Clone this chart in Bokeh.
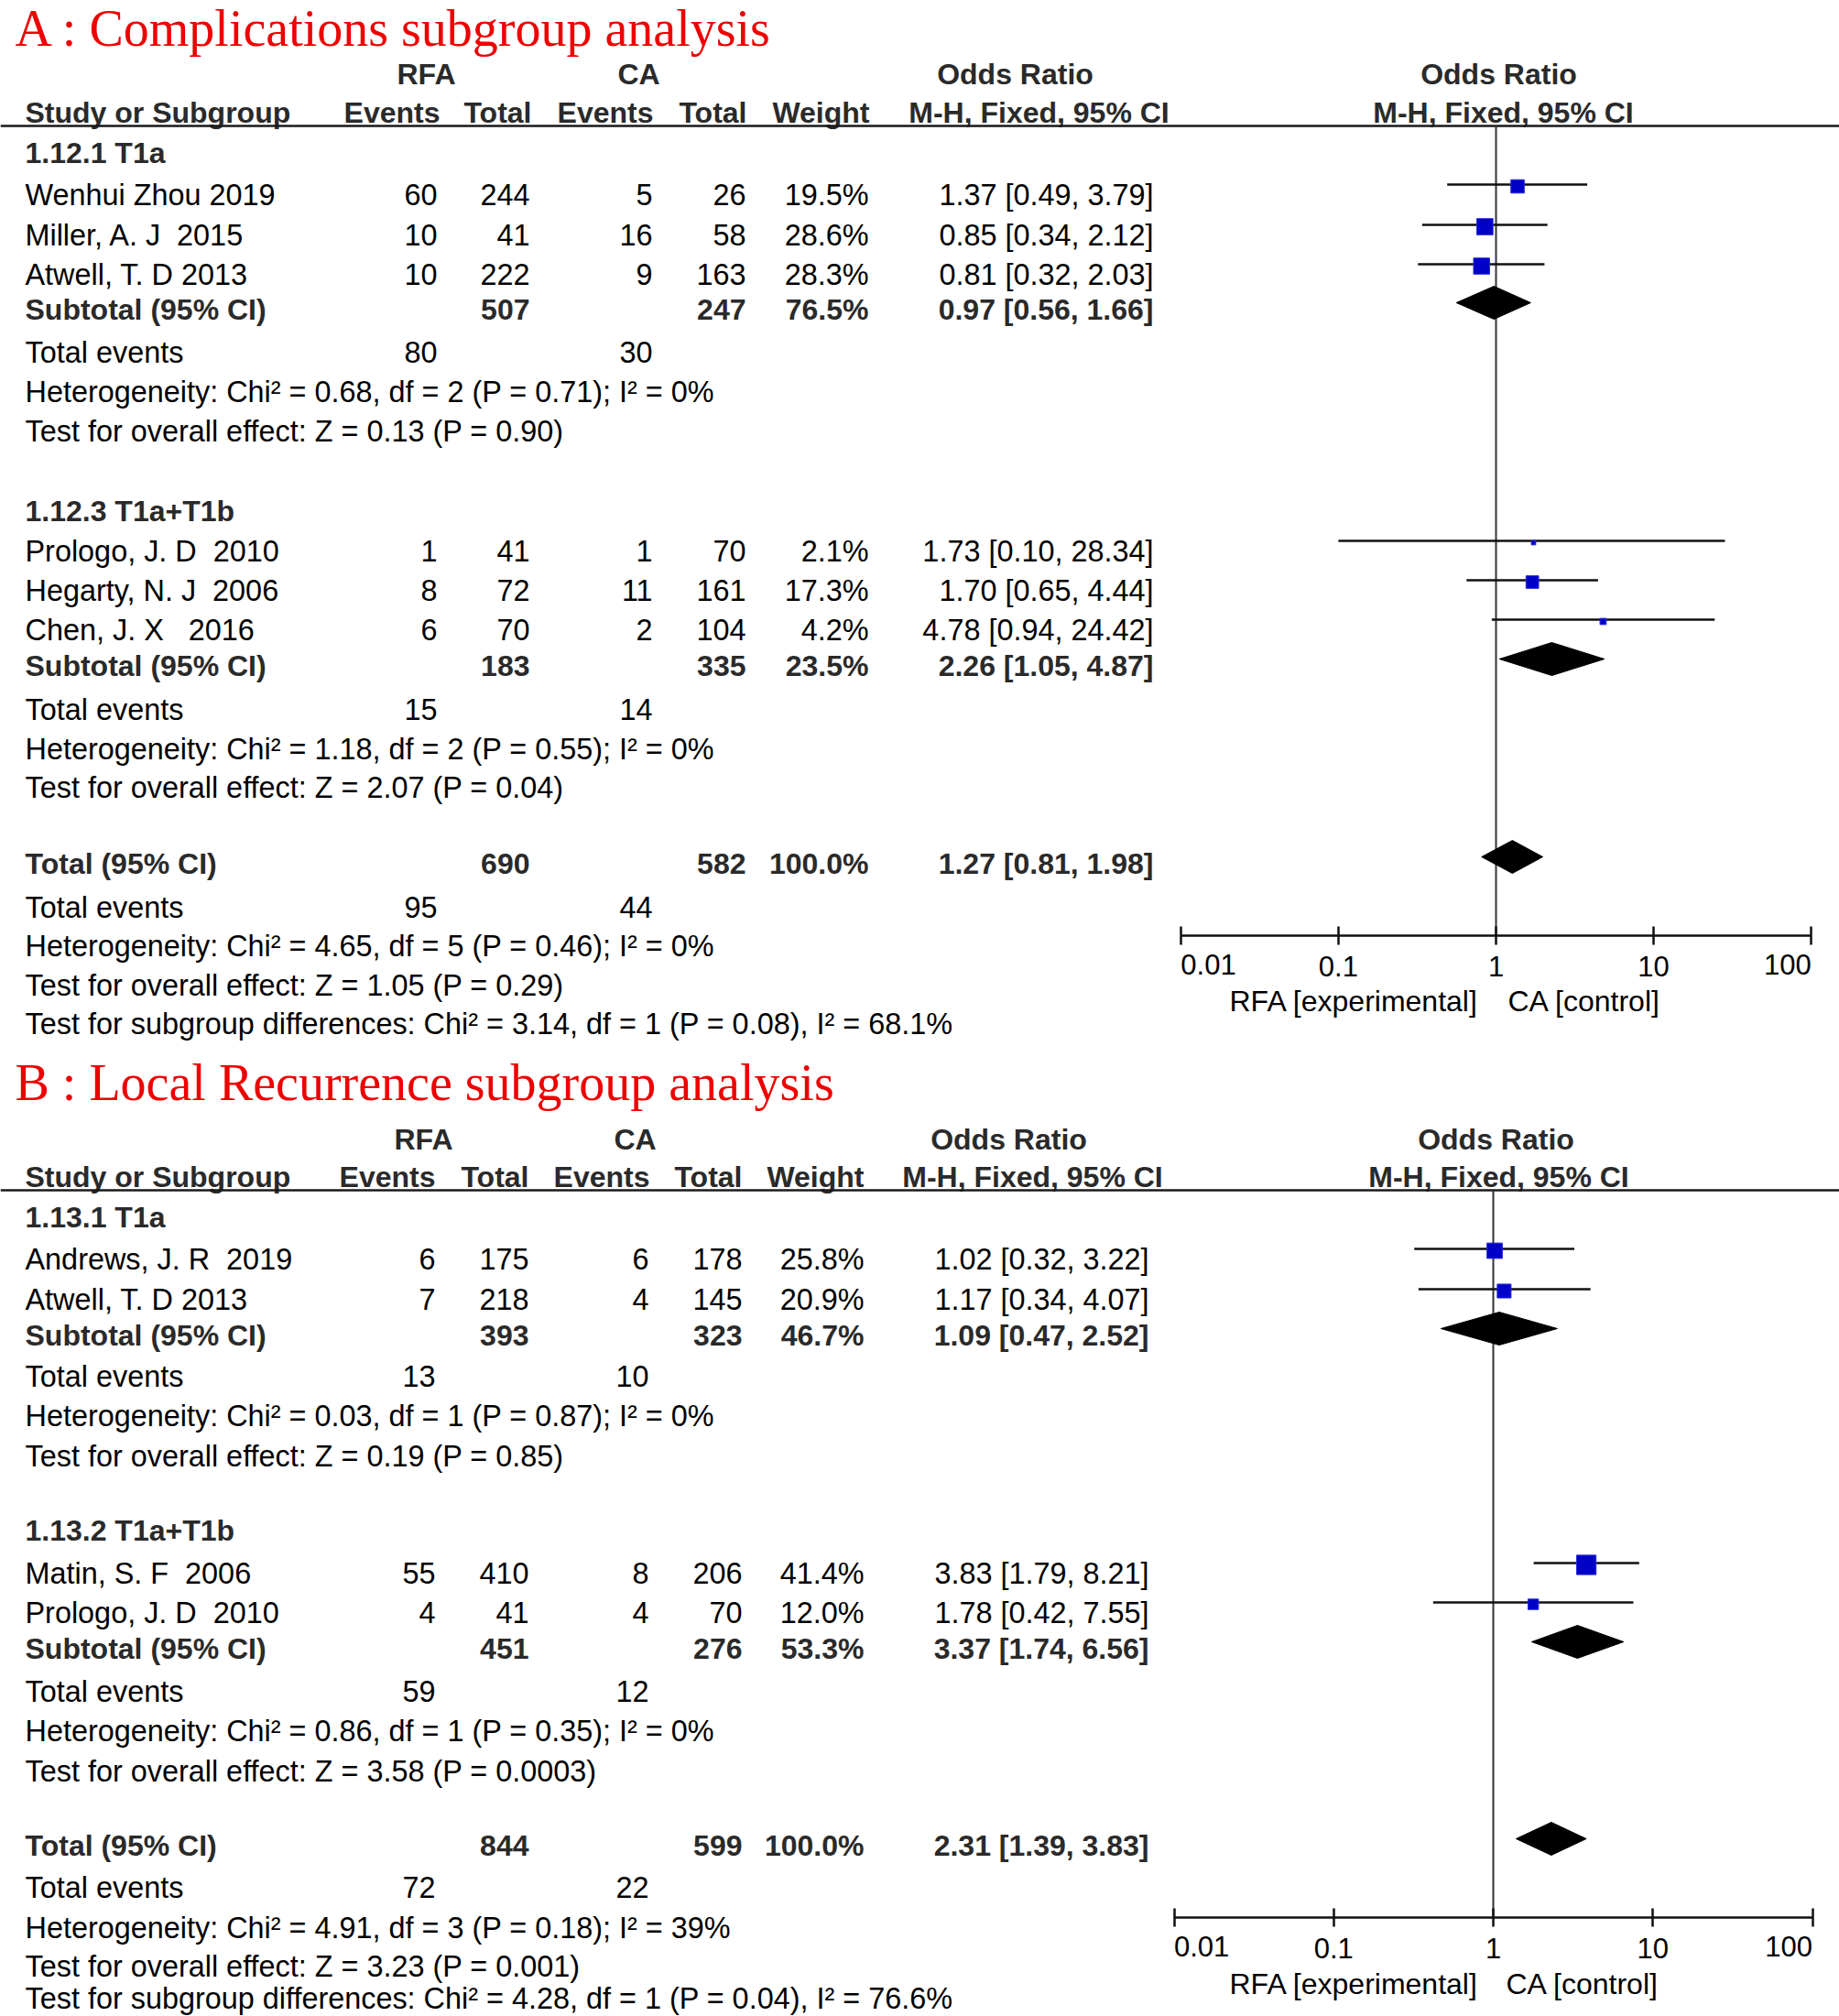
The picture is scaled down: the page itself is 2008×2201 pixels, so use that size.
from bokeh.plotting import figure
from bokeh.layouts import column
from bokeh.models import Range1d, LogScale, LinearAxis, FixedTicker, CustomJSTickFormatter, ColumnDataSource
from bokeh.core.properties import value
from bokeh.embed import file_html
from bokeh.resources import INLINE

NB = "\u00a0"

# ---------------- data: panel A (complications) ----------------
A_title = "A : Complications subgroup analysis"
A_groups = ["1.12.1 T1a", "1.12.3 T1a+T1b"]
A_studies = [["Wenhui Zhou 2019", "Miller, A. J" + NB + " 2015", "Atwell, T. D 2013"],
             ["Prologo, J. D" + NB + " 2010", "Hegarty, N. J" + NB + " 2006", "Chen, J. X" + NB + NB + " 2016"]]
A_ev_rfa = [[60, 10, 10], [1, 8, 6]]
A_n_rfa = [[244, 41, 222], [41, 72, 70]]
A_ev_ca = [[5, 16, 9], [1, 11, 2]]
A_n_ca = [[26, 58, 163], [70, 161, 104]]
A_weight = [[19.5, 28.6, 28.3], [2.1, 17.3, 4.2]]
A_or = [[1.37, 0.85, 0.81], [1.73, 1.70, 4.78]]
A_lo = [[0.49, 0.34, 0.32], [0.10, 0.65, 0.94]]
A_hi = [[3.79, 2.12, 2.03], [28.34, 4.44, 24.42]]
A_sub_n_rfa = [507, 183]
A_sub_n_ca = [247, 335]
A_sub_w = [76.5, 23.5]
A_sub_or = [0.97, 2.26]
A_sub_lo = [0.56, 1.05]
A_sub_hi = [1.66, 4.87]
A_sub_ev_rfa = [80, 15]
A_sub_ev_ca = [30, 14]
A_het = ["Chi\u00b2 = 0.68, df = 2 (P = 0.71); I\u00b2 = 0%", "Chi\u00b2 = 1.18, df = 2 (P = 0.55); I\u00b2 = 0%"]
A_z = ["Z = 0.13 (P = 0.90)", "Z = 2.07 (P = 0.04)"]
A_tot = dict(n_rfa=690, n_ca=582, w=100.0, or_=1.27, lo=0.81, hi=1.98, ev_rfa=95, ev_ca=44,
             het="Chi\u00b2 = 4.65, df = 5 (P = 0.46); I\u00b2 = 0%", z="Z = 1.05 (P = 0.29)",
             sub="Chi\u00b2 = 3.14, df = 1 (P = 0.08), I\u00b2 = 68.1%")

# ---------------- data: panel B (local recurrence) ----------------
B_title = "B : Local Recurrence subgroup analysis"
B_groups = ["1.13.1 T1a", "1.13.2 T1a+T1b"]
B_studies = [["Andrews, J. R" + NB + " 2019", "Atwell, T. D 2013"],
             ["Matin, S. F" + NB + " 2006", "Prologo, J. D" + NB + " 2010"]]
B_ev_rfa = [[6, 7], [55, 4]]
B_n_rfa = [[175, 218], [410, 41]]
B_ev_ca = [[6, 4], [8, 4]]
B_n_ca = [[178, 145], [206, 70]]
B_weight = [[25.8, 20.9], [41.4, 12.0]]
B_or = [[1.02, 1.17], [3.83, 1.78]]
B_lo = [[0.32, 0.34], [1.79, 0.42]]
B_hi = [[3.22, 4.07], [8.21, 7.55]]
B_sub_n_rfa = [393, 451]
B_sub_n_ca = [323, 276]
B_sub_w = [46.7, 53.3]
B_sub_or = [1.09, 3.37]
B_sub_lo = [0.47, 1.74]
B_sub_hi = [2.52, 6.56]
B_sub_ev_rfa = [13, 59]
B_sub_ev_ca = [10, 12]
B_het = ["Chi\u00b2 = 0.03, df = 1 (P = 0.87); I\u00b2 = 0%", "Chi\u00b2 = 0.86, df = 1 (P = 0.35); I\u00b2 = 0%"]
B_z = ["Z = 0.19 (P = 0.85)", "Z = 3.58 (P = 0.0003)"]
B_tot = dict(n_rfa=844, n_ca=599, w=100.0, or_=2.31, lo=1.39, hi=3.83, ev_rfa=72, ev_ca=22,
             het="Chi\u00b2 = 4.91, df = 3 (P = 0.18); I\u00b2 = 39%", z="Z = 3.23 (P = 0.001)",
             sub="Chi\u00b2 = 4.28, df = 1 (P = 0.04), I\u00b2 = 76.6%")

axis_ticks = [0.01, 0.1, 1, 10, 100]
axis_left_label = "RFA [experimental]"
axis_right_label = "CA [control]"

# ---------------- layout (pixel positions) ----------------
FONT = "Liberation Sans"
SERIF = "Liberation Serif"
FS = 32.4            # normal text
FSB = 32             # bold text
BASE = -1            # anchor offset from visual row centre
BOLD_COLOR = "#2a2a2a"
BLUE = "#0000C8"

LA = dict(top=0, bottom=1140, title_y=30, hdr1=81, hdr2=123, rule=137,
          groups=[dict(h=167.5, studies=[213, 257, 300], sub=338, ev=385, het=428, z=471),
                  dict(h=558, studies=[602, 645, 688], sub=727, ev=775, het=818, z=860)],
          tot=943, tot_ev=991, tot_het=1033, tot_z=1076, tot_sub=1118,
          axis_y=1021, tick_lab=1053, axis_lab=1093,
          c_ev_rfa=477, c_n_rfa=578, c_ev_ca=712, c_n_ca=814, c_w=948, c_ci=1259,
          h_rfa=465, h_ca=697, h_or1=1108, h_mh1=1134, h_or2=1636, h_mh2=1641,
          hc_ev_rfa=480, hc_n_rfa=580, hc_ev_ca=713, hc_n_ca=815, hc_w=949,
          px1=1633, dec=172.1, lab_l=1342, lab_r=1646)

LB = dict(top=1140, bottom=2201, title_y=1181, hdr1=1244, hdr2=1285, rule=1299,
          groups=[dict(h=1329, studies=[1375, 1419], sub=1458, ev=1503, het=1546, z=1590),
                  dict(h=1671, studies=[1718, 1761], sub=1800, ev=1847, het=1890, z=1934)],
          tot=2015, tot_ev=2061, tot_het=2105, tot_z=2147, tot_sub=2182,
          axis_y=2093, tick_lab=2125, axis_lab=2166,
          c_ev_rfa=475, c_n_rfa=577, c_ev_ca=708, c_n_ca=810, c_w=943, c_ci=1254,
          h_rfa=462, h_ca=693, h_or1=1101, h_mh1=1127, h_or2=1633, h_mh2=1636,
          hc_ev_rfa=475, hc_n_rfa=577, hc_ev_ca=709, hc_n_ca=810, hc_w=943,
          px1=1630, dec=174.25, lab_l=1342, lab_r=1644)

X0, X1 = 0, 2008
W = X1 - X0


def ci_text(o, lo, hi):
    return f"{o:.2f} [{lo:.2f}, {hi:.2f}]"


def txt(p, xs, ys, texts, align="left", bold=False, color="black", size=None, font=FONT, base=None, **kw):
    b = BASE if base is None else base
    if size is None:
        size = FSB if bold else FS
    src = ColumnDataSource(dict(x=list(xs), y=[y + b for y in ys], text=list(texts)))
    p.text(x="x", y="y", text="text", source=src, text_align=align, text_baseline="alphabetic",
           text_font=value(font), text_font_size=f"{size}px",
           text_font_style="bold" if bold else "normal", text_color=color, **kw)


def build(title, groups, studies, ev_rfa, n_rfa, ev_ca, n_ca, weight, ors, los, his,
          s_n_rfa, s_n_ca, s_w, s_or, s_lo, s_hi, s_ev_rfa, s_ev_ca, het, zt, tot, L):
    H = L["bottom"] - L["top"]
    p = figure(width=W, height=H, output_backend="svg", toolbar_location=None,
               x_range=Range1d(X0, X1), y_range=Range1d(L["bottom"], L["top"]),
               x_axis_location=None, y_axis_location=None, min_border=0)
    p.outline_line_color = None
    p.grid.visible = False
    px1, dec = L["px1"], L["dec"]
    p.extra_x_ranges = {"or": Range1d(10 ** ((X0 - px1) / dec), 10 ** ((X1 - px1) / dec))}
    p.extra_x_scales = {"or": LogScale()}

    # title
    txt(p, [16], [L["title_y"]], [title], font=SERIF, size=56, color="#EE0000", base=0)

    # headers
    txt(p, [L["h_rfa"], L["h_ca"], L["h_or1"], L["h_or2"]], [L["hdr1"]] * 4,
        ["RFA", "CA", "Odds Ratio", "Odds Ratio"], align="center", bold=True, color=BOLD_COLOR)
    txt(p, [L["h_mh1"], L["h_mh2"]], [L["hdr2"]] * 2,
        ["M-H, Fixed, 95% CI", "M-H, Fixed, 95% CI"], align="center", bold=True, color=BOLD_COLOR)
    txt(p, [27], [L["hdr2"]], ["Study or Subgroup"], bold=True, color=BOLD_COLOR)
    txt(p, [L["hc_ev_rfa"], L["hc_n_rfa"], L["hc_ev_ca"], L["hc_n_ca"], L["hc_w"]], [L["hdr2"]] * 5,
        ["Events", "Total", "Events", "Total", "Weight"], align="right", bold=True, color=BOLD_COLOR)
    p.segment(x0=[X0], x1=[X1], y0=[L["rule"]], y1=[L["rule"]], line_color="#1a1a1a", line_width=2.5)

    # vertical line of no effect
    p.segment(x0=[1], x1=[1], y0=[L["rule"]], y1=[L["axis_y"]], x_range_name="or",
              line_color="#333333", line_width=2)

    nl_x, nl_y, nl_t = [], [], []          # normal left
    nr_x, nr_y, nr_t = [], [], []          # normal right
    bl_x, bl_y, bl_t = [], [], []          # bold left
    br_x, br_y, br_t = [], [], []          # bold right
    st_or, st_lo, st_hi, st_y, st_w = [], [], [], [], []
    dxs, dys = [], []

    def diamond(o, lo, hi, y):
        yc = y - 8
        dxs.append([lo, o, hi, o])
        dys.append([yc, yc - 18, yc, yc + 18])

    for gi, g in enumerate(L["groups"]):
        bl_x.append(27); bl_y.append(g["h"]); bl_t.append(groups[gi])
        for si, y in enumerate(g["studies"]):
            nl_x.append(27); nl_y.append(y); nl_t.append(studies[gi][si])
            vals = [str(ev_rfa[gi][si]), str(n_rfa[gi][si]), str(ev_ca[gi][si]), str(n_ca[gi][si]),
                    f"{weight[gi][si]:.1f}%", ci_text(ors[gi][si], los[gi][si], his[gi][si])]
            cols = [L["c_ev_rfa"], L["c_n_rfa"], L["c_ev_ca"], L["c_n_ca"], L["c_w"], L["c_ci"]]
            for c, v in zip(cols, vals):
                nr_x.append(c); nr_y.append(y); nr_t.append(v)
            st_or.append(ors[gi][si]); st_lo.append(los[gi][si]); st_hi.append(his[gi][si])
            st_y.append(y); st_w.append(weight[gi][si])
        bl_x.append(27); bl_y.append(g["sub"]); bl_t.append("Subtotal (95% CI)")
        for c, v in zip([L["c_n_rfa"], L["c_n_ca"], L["c_w"], L["c_ci"]],
                        [str(s_n_rfa[gi]), str(s_n_ca[gi]), f"{s_w[gi]:.1f}%",
                         ci_text(s_or[gi], s_lo[gi], s_hi[gi])]):
            br_x.append(c); br_y.append(g["sub"]); br_t.append(v)
        diamond(s_or[gi], s_lo[gi], s_hi[gi], g["sub"])
        nl_x += [27, 27, 27]; nl_y += [g["ev"], g["het"], g["z"]]
        nl_t += ["Total events", "Heterogeneity: " + het[gi], "Test for overall effect: " + zt[gi]]
        nr_x += [L["c_ev_rfa"], L["c_ev_ca"]]; nr_y += [g["ev"], g["ev"]]
        nr_t += [str(s_ev_rfa[gi]), str(s_ev_ca[gi])]

    # overall
    bl_x.append(27); bl_y.append(L["tot"]); bl_t.append("Total (95% CI)")
    for c, v in zip([L["c_n_rfa"], L["c_n_ca"], L["c_w"], L["c_ci"]],
                    [str(tot["n_rfa"]), str(tot["n_ca"]), f"{tot['w']:.1f}%",
                     ci_text(tot["or_"], tot["lo"], tot["hi"])]):
        br_x.append(c); br_y.append(L["tot"]); br_t.append(v)
    diamond(tot["or_"], tot["lo"], tot["hi"], L["tot"])
    nl_x += [27, 27, 27, 27]
    nl_y += [L["tot_ev"], L["tot_het"], L["tot_z"], L["tot_sub"]]
    nl_t += ["Total events", "Heterogeneity: " + tot["het"], "Test for overall effect: " + tot["z"],
             "Test for subgroup differences: " + tot["sub"]]
    nr_x += [L["c_ev_rfa"], L["c_ev_ca"]]; nr_y += [L["tot_ev"]] * 2
    nr_t += [str(tot["ev_rfa"]), str(tot["ev_ca"])]

    txt(p, nl_x, nl_y, nl_t)
    txt(p, nr_x, nr_y, nr_t, align="right")
    txt(p, bl_x, bl_y, bl_t, bold=True, color=BOLD_COLOR)
    txt(p, br_x, br_y, br_t, align="right", bold=True, color=BOLD_COLOR)

    # study CIs and squares
    p.segment(x0=st_lo, x1=st_hi, y0=[y - 12 for y in st_y], y1=[y - 12 for y in st_y],
              x_range_name="or", line_color="#111111", line_width=2.5)
    p.scatter(x=st_or, y=[y - 10 for y in st_y], size=[3.3 * w ** 0.5 for w in st_w],
              marker="square", x_range_name="or", fill_color=BLUE, line_color="#2a2ad8", line_width=1)
    p.patches(xs=dxs, ys=dys, x_range_name="or", fill_color="black", line_color="black", line_width=1)

    # axis: ticks from the axis; inner labels centred, end labels aligned to their ticks
    ends = [axis_ticks[0], axis_ticks[-1]]
    ax = LinearAxis(x_range_name="or", fixed_location=L["axis_y"], bounds=(axis_ticks[0], axis_ticks[-1]),
                    ticker=FixedTicker(ticks=axis_ticks, minor_ticks=[]),
                    formatter=CustomJSTickFormatter(
                        args=dict(ends=ends),
                        code="for (const e of ends) { if (Math.abs(tick - e) < 1e-9 * e) return ''; } return tick.toString();"))
    ax.axis_line_width = 2.5
    ax.axis_line_color = "#111111"
    ax.major_tick_line_width = 2.5
    ax.major_tick_line_color = "#111111"
    ax.major_tick_in = 10
    ax.major_tick_out = 10
    ax.minor_tick_line_color = None
    ax.major_label_standoff = 12
    ax.major_label_text_font = FONT
    ax.major_label_text_font_size = "31px"
    ax.major_label_text_color = "black"
    p.add_layout(ax, "below")
    txt(p, [ends[0]], [L["tick_lab"]], [str(ends[0])], size=31, x_range_name="or")
    txt(p, [ends[1]], [L["tick_lab"]], [str(ends[1])], size=31, align="right", x_range_name="or")
    txt(p, [L["lab_l"], L["lab_r"]], [L["axis_lab"]] * 2, [axis_left_label, axis_right_label], size=32)
    return p


pA = build(A_title, A_groups, A_studies, A_ev_rfa, A_n_rfa, A_ev_ca, A_n_ca, A_weight, A_or, A_lo, A_hi,
           A_sub_n_rfa, A_sub_n_ca, A_sub_w, A_sub_or, A_sub_lo, A_sub_hi, A_sub_ev_rfa, A_sub_ev_ca,
           A_het, A_z, A_tot, LA)
pB = build(B_title, B_groups, B_studies, B_ev_rfa, B_n_rfa, B_ev_ca, B_n_ca, B_weight, B_or, B_lo, B_hi,
           B_sub_n_rfa, B_sub_n_ca, B_sub_w, B_sub_or, B_sub_lo, B_sub_hi, B_sub_ev_rfa, B_sub_ev_ca,
           B_het, B_z, B_tot, LB)

layout = column(pA, pB, spacing=0)
open("out.html", "w").write(file_html(layout, INLINE))
